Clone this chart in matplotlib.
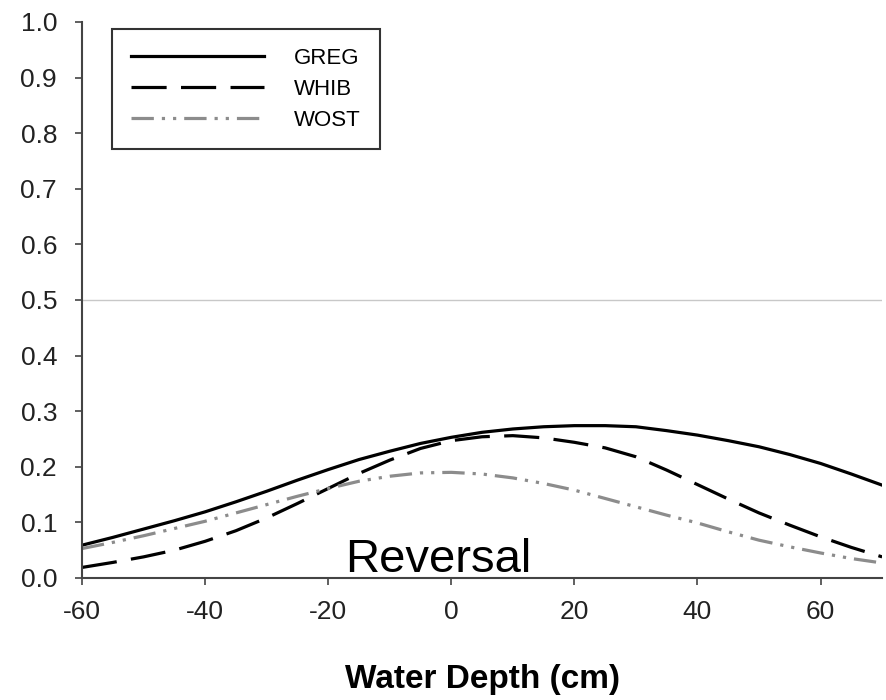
import matplotlib
matplotlib.use("Agg")
import matplotlib.pyplot as plt

plt.rcParams['font.family'] = ['Liberation Sans', 'DejaVu Sans']
plt.rcParams['axes.unicode_minus'] = False

# Water depth (cm)
depth = [-60, -55, -50, -45, -40, -35, -30, -25, -20, -15, -10, -5, 0, 5,
         10, 15, 20, 25, 30, 35, 40, 45, 50, 55, 60, 65, 70]

greg = [0.059, 0.073, 0.088, 0.103, 0.119, 0.137, 0.156, 0.176, 0.195, 0.213,
        0.228, 0.242, 0.253, 0.262, 0.268, 0.272, 0.274, 0.274, 0.272, 0.265,
        0.257, 0.247, 0.236, 0.222, 0.206, 0.187, 0.167]

whib = [0.019, 0.028, 0.038, 0.050, 0.066, 0.085, 0.108, 0.134, 0.161, 0.188,
        0.212, 0.233, 0.247, 0.254, 0.256, 0.252, 0.244, 0.234, 0.218, 0.194,
        0.168, 0.142, 0.117, 0.095, 0.074, 0.055, 0.038]

wost = [0.053, 0.064, 0.076, 0.089, 0.102, 0.117, 0.132, 0.147, 0.161, 0.174,
        0.183, 0.189, 0.190, 0.187, 0.180, 0.170, 0.158, 0.143, 0.128, 0.113,
        0.099, 0.083, 0.068, 0.056, 0.045, 0.035, 0.027]

xticks = [-60, -40, -20, 0, 20, 40, 60]
yticks = [0.0, 0.1, 0.2, 0.3, 0.4, 0.5, 0.6, 0.7, 0.8, 0.9, 1.0]

fig = plt.figure(figsize=(8.87, 7.0), dpi=100)
ax = fig.add_axes([0.0925, 0.1743, 0.902, 0.7943])

# reference line at 0.5
ax.axhline(0.5, color='#c8c8c8', lw=1.0, zorder=1)

ax.plot(depth, greg, color='black', lw=2.3, label='GREG')
ax.plot(depth, whib, color='black', lw=2.3, dashes=(11, 4.5), label='WHIB')
ax.plot(depth, wost, color='#8c8c8c', lw=2.3,
        dashes=(7, 2.5, 1, 2.5, 1, 2.5), label='WOST')

ax.set_xlim(-60, 70)
ax.set_ylim(0, 1.0)
ax.set_xticks(xticks)
ax.set_yticks(yticks)
ax.set_yticklabels([f"{v:.1f}" for v in yticks])

for s in ['top', 'right']:
    ax.spines[s].set_visible(False)
for s in ['left', 'bottom']:
    ax.spines[s].set_color('#444444')
    ax.spines[s].set_linewidth(1.5)

ax.tick_params(direction='out', length=5, width=1.2, color='#444444',
               labelsize=19, labelcolor='#222222')
ax.tick_params(axis='x', pad=11)
ax.tick_params(axis='y', pad=13)

ax.set_xlabel('Water Depth (cm)', fontsize=24, fontweight='bold', labelpad=29)

leg = ax.legend(loc='upper left', bbox_to_anchor=(0.0375, 0.988),
                fontsize=16, handlelength=6.0, handletextpad=1.35,
                labelspacing=0.45, borderpad=0.85, borderaxespad=0,
                fancybox=False, framealpha=1)
leg.get_frame().set_edgecolor('#333333')
leg.get_frame().set_linewidth(1.5)

ax.text(0.329, 0.011, 'Reversal', transform=ax.transAxes, fontsize=34,
        ha='left', va='baseline')

fig.savefig('out.png', dpi=100)
